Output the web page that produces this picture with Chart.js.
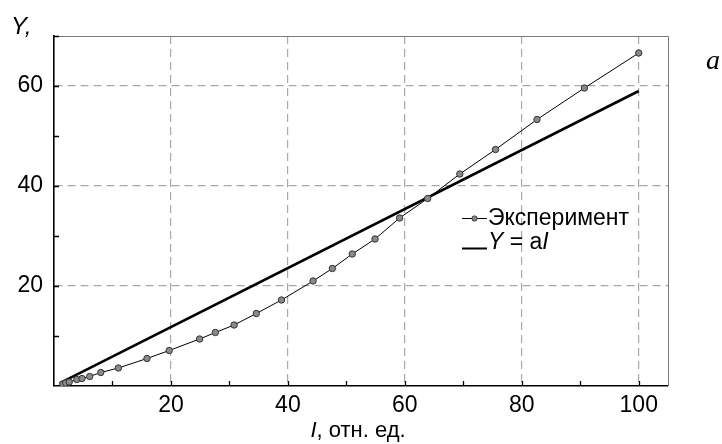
<!DOCTYPE html>
<html>
<head>
<meta charset="utf-8">
<script src="https://cdn.jsdelivr.net/npm/chart.js@4.4.1/dist/chart.umd.min.js"></script>
<style>
  html, body { margin: 0; padding: 0; background: #fff; }
  #wrap { width: 722px; height: 444px; }
</style>
</head>
<body>
<div id="wrap"><canvas id="chart" width="722" height="444"></canvas></div>
<script>
const expI = [1.5, 2.0, 2.6, 3.9, 4.8, 6.1, 8.0, 11.0, 15.9, 19.7, 24.9, 27.6, 30.8, 34.6, 38.9,
              44.3, 47.6, 51.0, 54.9, 59.1, 63.9, 69.4, 75.5, 82.6, 90.7, 100];
const expY = [0.4, 0.6, 0.8, 1.3, 1.5, 1.9, 2.7, 3.6, 5.5, 7.1, 9.4, 10.7, 12.2, 14.5, 17.2,
              21.0, 23.5, 26.4, 29.4, 33.6, 37.5, 42.4, 47.3, 53.3, 59.6, 66.6];

// Linear law Y = aI
const fitI = [1, 100];
const fitY = [0.59, 59];

// Labelled ticks / grid lines
const xLabels = [20, 40, 60, 80, 100];
const yLabels = [20, 40, 60];

const SANS = "'Liberation Sans', Arial, sans-serif";

// draws pieces of text with different fonts one after another
function drawRuns(ctx, runs, x, y, align) {
    let total = 0;
    runs.forEach(r => { ctx.font = r[1]; total += ctx.measureText(r[0]).width; });
    if (align === 'center') x -= total / 2;
    ctx.textAlign = 'left';
    runs.forEach(r => {
        ctx.font = r[1];
        ctx.fillText(r[0], x, y);
        x += ctx.measureText(r[0]).width;
    });
}

const decor = {
    id: 'decor',
    beforeDatasetsDraw(chart) {
        const { ctx, chartArea: a, scales: { x, y } } = chart;
        ctx.save();
        // thin gray frame on top and right
        ctx.strokeStyle = '#7a7a7a';
        ctx.lineWidth = 1;
        ctx.beginPath();
        ctx.moveTo(a.left, a.top + 0.5);
        ctx.lineTo(a.right + 0.5, a.top + 0.5);
        ctx.lineTo(a.right + 0.5, a.bottom);
        ctx.stroke();
        // tick marks pointing inwards, every 10 units
        ctx.strokeStyle = '#000';
        ctx.lineWidth = 1.3;
        ctx.beginPath();
        x.ticks.forEach(t => {
            if (t.value === 0 || t.value % 10) return;
            const px = Math.round(x.getPixelForValue(t.value)) + 0.5;
            ctx.moveTo(px, a.bottom);
            ctx.lineTo(px, a.bottom - 5);
        });
        y.ticks.forEach(t => {
            if (t.value === 0 || t.value % 10) return;
            const py = Math.round(y.getPixelForValue(t.value)) + 0.5;
            ctx.moveTo(a.left, py);
            ctx.lineTo(a.left + 5, py);
        });
        ctx.stroke();
        ctx.restore();
    },
    afterDraw(chart) {
        const { ctx, chartArea: a } = chart;
        const ds = chart.data.datasets;
        ctx.save();
        ctx.fillStyle = '#000';
        ctx.textBaseline = 'alphabetic';

        // axis titles
        drawRuns(ctx, [['Y,', 'italic 24px ' + SANS]], 11, 34);
        drawRuns(ctx, [['I', 'italic 22px ' + SANS], [', отн. ед.', '22px ' + SANS]],
                 a.left + 304, 437, 'center');
        // panel letter
        drawRuns(ctx, [['a', "italic 28px 'Liberation Serif', 'Times New Roman', serif"]], 706, 69);

        // legend
        const lx = a.left + 408, lw = 25, tx = lx + 26;
        const r1 = a.top + 182, r2 = a.top + 212;
        ctx.strokeStyle = ds[0].borderColor;
        ctx.lineWidth = 1;
        ctx.beginPath();
        ctx.moveTo(lx, r1 + 0.5);
        ctx.lineTo(lx + lw, r1 + 0.5);
        ctx.stroke();
        ctx.beginPath();
        ctx.arc(lx + lw / 2, r1 + 0.5, 2.6, 0, Math.PI * 2);
        ctx.fillStyle = ds[0].pointBackgroundColor;
        ctx.fill();
        ctx.strokeStyle = ds[0].pointBorderColor;
        ctx.stroke();
        ctx.fillStyle = '#000';
        drawRuns(ctx, [[ds[0].label, '23px ' + SANS]], tx, r1 + 7);

        ctx.strokeStyle = ds[1].borderColor;
        ctx.lineWidth = 2;
        ctx.beginPath();
        ctx.moveTo(lx, r2 + 0.5);
        ctx.lineTo(lx + lw, r2 + 0.5);
        ctx.stroke();
        drawRuns(ctx, [['Y', 'italic 23px ' + SANS], [' = a', '23px ' + SANS], ['I', 'italic 23px ' + SANS]],
                 tx, r2 + 0.5);
        ctx.restore();
    }
};

new Chart(document.getElementById('chart'), {
    type: 'scatter',
    data: {
        datasets: [{
            label: 'Эксперимент',
            data: expI.map((v, i) => ({ x: v, y: expY[i] })),
            showLine: true,
            borderColor: '#000',
            borderWidth: 1,
            pointRadius: 3.2,
            pointBackgroundColor: '#8a8a8a',
            pointBorderColor: '#333',
            pointBorderWidth: 1
        }, {
            label: 'Y = aI',
            data: fitI.map((v, i) => ({ x: v, y: fitY[i] })),
            showLine: true,
            borderColor: '#000',
            borderWidth: 2.6,
            pointRadius: 0
        }]
    },
    options: {
        responsive: false,
        animation: false,
        devicePixelRatio: 1,
        layout: { padding: { left: 0, top: 36, right: 54, bottom: 0 } },
        plugins: {
            legend: { display: false },
            tooltip: { enabled: false }
        },
        scales: {
            x: {
                type: 'linear',
                min: 0,
                max: 105,
                afterFit: s => { s.height = 58; },
                ticks: {
                    stepSize: 10,
                    includeBounds: false,
                    autoSkip: false,
                    maxRotation: 0,
                    padding: 6,
                    color: '#000',
                    font: { family: SANS, size: 23 },
                    callback: v => xLabels.includes(v) ? String(v) : ''
                },
                grid: {
                    drawTicks: false,
                    lineWidth: 1.2,
                    color: c => xLabels.includes(c.tick && c.tick.value) ? '#a8a8a8' : 'rgba(0,0,0,0)'
                },
                border: { color: '#000', width: 1.6, dash: [8, 5] }
            },
            y: {
                type: 'linear',
                min: 0,
                max: 70,
                afterFit: s => { s.width = 54; },
                ticks: {
                    stepSize: 10,
                    includeBounds: false,
                    autoSkip: false,
                    padding: 11,
                    color: '#000',
                    font: { family: SANS, size: 23 },
                    callback: v => yLabels.includes(v) ? String(v) : ''
                },
                grid: {
                    drawTicks: false,
                    lineWidth: 1.2,
                    color: c => yLabels.includes(c.tick && c.tick.value) ? '#a8a8a8' : 'rgba(0,0,0,0)'
                },
                border: { color: '#000', width: 1.6, dash: [8, 5] }
            }
        }
    },
    plugins: [decor]
});
</script>
</body>
</html>
